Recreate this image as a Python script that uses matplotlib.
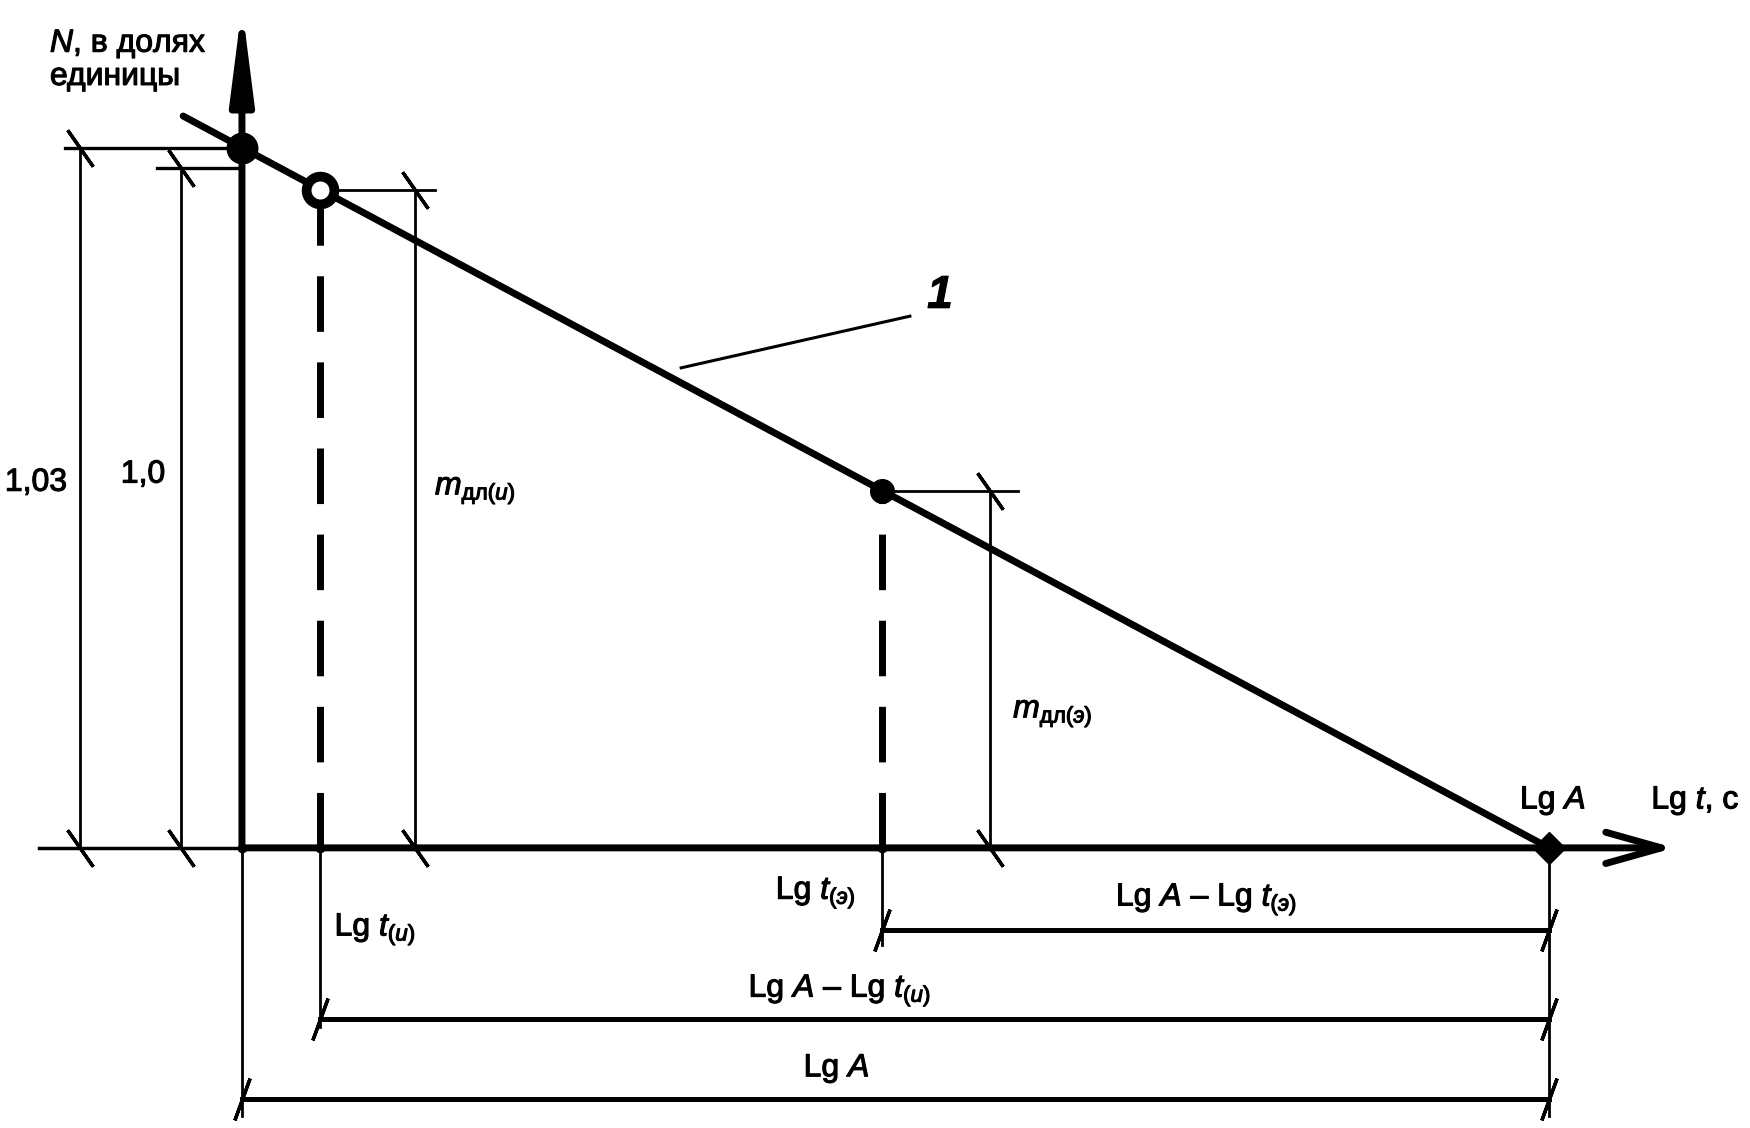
import matplotlib
matplotlib.use("Agg")
import matplotlib.pyplot as plt
import matplotlib.patheffects as pe
import numpy as np

# schematic data: N drops linearly with lg t and reaches zero at Lg A
lg_A = 10.0
lg_t_u = 0.6      # Lg t(u)
lg_t_e = 4.9      # Lg t(э)
n_start = 1.03
n_unit = 1.0
line_lg_t = [-0.45, lg_A]


def n_of(lg_t):
    return n_start * (1 - np.asarray(lg_t, dtype=float) / lg_A)


# layout (data units of the drawing)
X_DIM_103 = -1.24
X_DIM_10 = -0.467
X_DIM_MU = 1.324
X_DIM_ME = 5.72
Y_DIM_E = -0.121
Y_DIM_U = -0.252
Y_DIM_A = -0.369

plt.rcParams["font.family"] = ["Liberation Sans", "DejaVu Sans"]
plt.rcParams["mathtext.fontset"] = "custom"
plt.rcParams["mathtext.rm"] = "Liberation Sans"
plt.rcParams["mathtext.it"] = "Liberation Sans:italic"
plt.rcParams["mathtext.bf"] = "Liberation Sans:bold"

fig = plt.figure(figsize=(17.5, 11.28), dpi=100)
ax = fig.add_axes([0, 0, 1, 1])
ax.set_xlim(-1.851, 11.537)
ax.set_ylim(-0.412, 1.247)
ax.axis("off")

K = "black"
THICK = 5.0
THIN = 2.0
FS = 23
heavy = [pe.withStroke(linewidth=0.8, foreground=K)]

n_u = float(n_of(lg_t_u))
n_e = float(n_of(lg_t_e))


def tick(x, y, kind):
    # architectural slash on a dimension line end
    ang = 35 if kind == "v" else -20
    ax.plot([x], [y], marker=(2, 2, ang), ms=32, mew=2.4, color=K, zorder=5)


def label(x, y, s, **kw):
    kw.setdefault("fontsize", FS)
    kw.setdefault("ha", "center")
    kw.setdefault("va", "center")
    ax.text(x, y, s, path_effects=heavy, **kw)


# axes of the drawing
ax.plot([-1.553, 0], [0, 0], color=K, lw=THIN + 0.5)
ax.annotate("", xy=(10.957, 0), xytext=(0, 0),
            arrowprops=dict(arrowstyle="->,head_length=1.6,head_width=0.45",
                            lw=THICK, color=K, mutation_scale=25,
                            shrinkA=0, shrinkB=0))
ax.annotate("", xy=(0, 1.238), xytext=(0, 0),
            arrowprops=dict(arrowstyle="-|>,head_length=2.2,head_width=0.28",
                            lw=THICK, color=K, mutation_scale=25,
                            shrinkA=0, shrinkB=0))

# main line 1
ax.plot(line_lg_t, n_of(line_lg_t), color=K, lw=THICK, solid_capstyle="round", zorder=4)

# dashed verticals
for xv, nv in [(lg_t_u, n_u), (lg_t_e, n_e)]:
    ax.plot([xv, xv], [0, nv], color=K, lw=THICK, linestyle=(0, (8.0, 4.4)), zorder=3)

# points
ax.plot([0], [n_start], "o", ms=22, color=K, zorder=6)
ax.plot([lg_t_u], [n_u], "o", ms=20, mfc="white", mec=K, mew=7, zorder=6)
ax.plot([lg_t_e], [n_e], "o", ms=17, color=K, zorder=6)
ax.plot([lg_A], [0], "D", ms=16, color=K, zorder=6)
ax.plot([0, lg_t_u, lg_t_e], [0, 0, 0], "o", ms=6, color=K, zorder=6)

# left dimensions 1,03 and 1,0
ax.plot([X_DIM_103 - 0.114, 0], [n_start, n_start], color=K, lw=THIN + 0.4)
ax.plot([X_DIM_103, X_DIM_103], [0, n_start], color=K, lw=THIN)
tick(X_DIM_103, n_start, "v")
tick(X_DIM_103, 0, "v")
ax.plot([X_DIM_10 - 0.18, 0], [n_unit, n_unit], color=K, lw=THIN + 0.4)
ax.plot([X_DIM_10, X_DIM_10], [0, n_unit], color=K, lw=THIN)
tick(X_DIM_10, n_unit, "v")
tick(X_DIM_10, 0, "v")

# m dimensions
ax.plot([lg_t_u, X_DIM_MU + 0.15], [n_u, n_u], color=K, lw=THIN)
ax.plot([X_DIM_MU, X_DIM_MU], [0, n_u], color=K, lw=THIN)
tick(X_DIM_MU, n_u, "v")
tick(X_DIM_MU, 0, "v")
ax.plot([lg_t_e, X_DIM_ME + 0.22], [n_e, n_e], color=K, lw=THIN)
ax.plot([X_DIM_ME, X_DIM_ME], [0, n_e], color=K, lw=THIN)
tick(X_DIM_ME, n_e, "v")
tick(X_DIM_ME, 0, "v")

# extension lines below the axis
ax.plot([0, 0], [0, Y_DIM_A - 0.025], color=K, lw=THIN)
ax.plot([lg_A, lg_A], [0, Y_DIM_A - 0.025], color=K, lw=THIN)
ax.plot([lg_t_u, lg_t_u], [0, Y_DIM_U - 0.012], color=K, lw=THIN)
ax.plot([lg_t_e, lg_t_e], [0, Y_DIM_E - 0.022], color=K, lw=THIN)

# bottom dimensions
for x0, yd in [(lg_t_e, Y_DIM_E), (lg_t_u, Y_DIM_U), (0, Y_DIM_A)]:
    ax.plot([x0, lg_A], [yd, yd], color=K, lw=3.6)
    tick(x0, yd, "h")
    tick(lg_A, yd, "h")

# leader for line 1
ax.plot([3.36, 5.11], [0.706, 0.782], color=K, lw=2.2)
label(5.34, 0.812, "1", fontsize=33, fontstyle="italic", fontweight="bold")

# labels
label(-1.469, 1.159, "$N$, в долях\nединицы", ha="left", linespacing=1.05)
label(-1.576, 0.537, "1,03")
label(-0.757, 0.549, "1,0")
label(1.477, 0.525, r"$m_{\mathrm{дл}(u)}$", ha="left")
label(5.9, 0.197, r"$m_{\mathrm{дл}(э)}$", ha="left")
label(10.03, 0.069, "Lg $A$")
label(11.12, 0.069, "Lg $t$, с")
label(4.39, -0.066, r"Lg $t_{(э)}$")
label(1.02, -0.12, r"Lg $t_{(u)}$")
label(7.38, -0.076, r"Lg $A$ – Lg $t_{(э)}$")
label(4.575, -0.21, r"Lg $A$ – Lg $t_{(u)}$")
label(4.55, -0.325, "Lg $A$")

fig.savefig("out.png", dpi=100)
